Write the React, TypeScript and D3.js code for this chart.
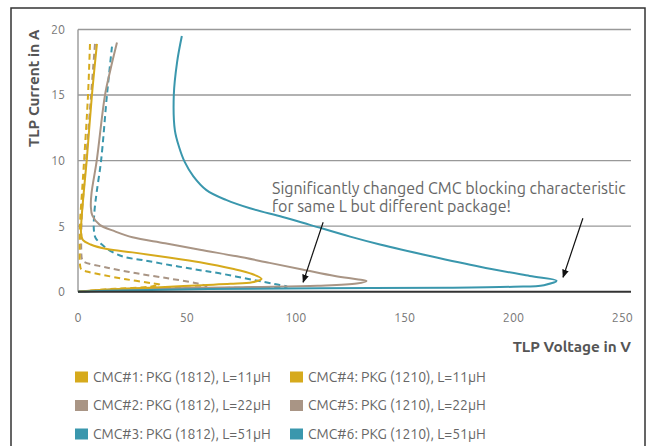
import React from "react";
import * as d3 from "d3";

// TLP curves: [voltage V, current A], traced from high current down to the snapback peak and back to origin
const cmc1: [number, number][] = [[8.7,18.9],[6.4,15],[4.0,10],[2.6,7.5],[1.6,5.5],[1.4,4.5],[2.2,3.95],[5.8,3.6],[13.3,3.25],[25,3.0],[40,2.65],[56,2.25],[71,1.75],[80,1.35],[84.3,0.98],[80,0.72],[70,0.6],[57,0.5],[40,0.36],[27,0.27],[12,0.15],[0,0]];
const cmc2: [number, number][] = [[17.9,19],[15,17],[12.4,15],[8.6,10],[6.2,7.5],[5.9,6.5],[6.6,5.8],[10,5.1],[17,4.6],[25,4.15],[40,3.7],[56,3.2],[73,2.7],[88,2.2],[103,1.7],[118,1.2],[128,0.95],[132.5,0.82],[128,0.62],[110,0.45],[80,0.36],[50,0.28],[20,0.15],[0,0]];
const cmc3: [number, number][] = [[47.7,19.5],[45.5,17.5],[44,15],[44.5,12.3],[46.5,11],[49,9.9],[53,8.8],[59,7.75],[68,7.0],[79,6.36],[94,5.7],[106.5,5.1],[125,4.2],[138.7,3.6],[161.6,2.72],[184.6,1.9],[207.5,1.2],[219.8,0.84],[214,0.5],[200,0.38],[170,0.3],[111,0.26],[60,0.2],[20,0.1],[0,0]];
const cmc4: [number, number][] = [[5.5,18.9],[4.6,15],[2.8,10],[1.8,7.5],[1.0,5.5],[0.8,4],[0.8,3],[0.9,2.1],[1.5,1.7],[5,1.5],[11.6,1.27],[22,0.95],[34,0.64],[37.6,0.52],[33,0.38],[20,0.25],[8,0.12],[0,0]];
const cmc5: [number, number][] = [[7.8,18.9],[6,15],[3.7,10],[2.5,7.5],[1.8,6],[1.5,4.5],[1.5,3.2],[1.8,2.5],[2.6,2.3],[13,1.85],[27,1.4],[42,1.0],[54.5,0.64],[59,0.4],[50,0.32],[35,0.28],[15,0.16],[0,0]];
const cmc6: [number, number][] = [[15.6,18.7],[13.3,15],[10.6,10],[8.5,7.5],[7.5,6],[7.3,4.7],[8.1,4.1],[11,3.6],[15,3.1],[20.8,2.67],[30,2.4],[42,2.04],[54,1.7],[65,1.4],[80.5,0.9],[90,0.6],[96,0.38],[85,0.33],[60,0.27],[30,0.18],[0,0]];

const seriesNames = [
  "CMC#1: PKG (1812), L=11µH",
  "CMC#2: PKG (1812), L=22µH",
  "CMC#3: PKG (1812), L=51µH",
  "CMC#4: PKG (1210), L=11µH",
  "CMC#5: PKG (1210), L=22µH",
  "CMC#6: PKG (1210), L=51µH",
];
const xTicks = [0, 50, 100, 150, 200, 250];
const yTicks = [0, 5, 10, 15, 20];
const annotationLines = [
  "Significantly changed CMC blocking characteristic",
  "for same L but different package!",
];
// arrows in data coords: [fromV, fromA, toV, toA]
const arrows: [number, number, number, number][] = [
  [112.6, 5.3, 103.4, 0.72],
  [231.9, 5.6, 222.8, 1.1],
];

const YELLOW = "#d6aa1c";
const TAUPE = "#a99585";
const TEAL = "#3a97ad";

export default function App() {
  const left = 78, right = 631, top = 29.5, bottom = 291.7;
  const x = d3.scaleLinear().domain([0, 254]).range([left, right]);
  const y = d3.scaleLinear().domain([0, 20]).range([bottom, top]);
  const line = d3
    .line<[number, number]>()
    .x((d) => x(d[0]))
    .y((d) => y(d[1]))
    .curve(d3.curveCatmullRom.alpha(0.5));

  const series = [
    { data: cmc5, color: TAUPE, dash: true },
    { data: cmc4, color: YELLOW, dash: true },
    { data: cmc6, color: TEAL, dash: true },
    { data: cmc2, color: TAUPE, dash: false },
    { data: cmc1, color: YELLOW, dash: false },
    { data: cmc3, color: TEAL, dash: false },
  ];
  const legendColors = [YELLOW, TAUPE, TEAL, YELLOW, TAUPE, TEAL];
  const font = "Ubuntu, 'Open Sans', 'Noto Sans', sans-serif";

  return (
    <svg width={650} height={446} style={{ position: "absolute", left: 0, top: 0, background: "#fff" }} fontFamily={font}>
      <defs>
        <marker id="ah" viewBox="0 0 10 10" refX="9" refY="5" markerWidth="7" markerHeight="7" orient="auto-start-reverse">
          <path d="M0,1 L10,5 L0,9 z" fill="#111" />
        </marker>
      </defs>
      <rect x={11} y={8} width={634} height={450} fill="none" stroke="#333" strokeWidth={1.5} />
      {/* grid */}
      {yTicks.filter((t) => t > 0).map((t) => (
        <line key={t} x1={left} x2={right} y1={y(t)} y2={y(t)} stroke="#999" strokeWidth={1.4} />
      ))}
      <line x1={left} x2={left} y1={top} y2={bottom} stroke="#999" strokeWidth={1.4} />
      {/* curves */}
      {series.map((s, i) => (
        <path key={i} d={line(s.data) || ""} fill="none" stroke={s.color} strokeWidth={2}
          strokeDasharray={s.dash ? "6,4" : undefined} strokeLinejoin="round" />
      ))}
      <line x1={left} x2={right} y1={bottom} y2={bottom} stroke="#333" strokeWidth={2} />
      {/* tick labels */}
      {yTicks.map((t) => (
        <text key={t} x={65} y={y(t)} dy="0.35em" textAnchor="end" fontSize={12.5} fill="#777">{t}</text>
      ))}
      {xTicks.map((t) => (
        <text key={t} x={x(t)} y={318} dy="0.35em" textAnchor="middle" fontSize={12.5} fill="#777">{t}</text>
      ))}
      {/* axis titles */}
      <text transform={`translate(39,${top}) rotate(-90)`} textAnchor="end" fontSize={15.3} fontWeight="bold" fill="#555">TLP Current in A</text>
      <text x={right} y={352} textAnchor="end" fontSize={15.3} fontWeight="bold" fill="#555">TLP Voltage in V</text>
      {/* annotation */}
      {annotationLines.map((l, i) => (
        <text key={i} x={272} y={194 + i * 18} fontSize={16} fill="#666">{l}</text>
      ))}
      {arrows.map((a, i) => (
        <line key={i} x1={x(a[0])} y1={y(a[1])} x2={x(a[2])} y2={y(a[3])} stroke="#111" strokeWidth={1.2} markerEnd="url(#ah)" />
      ))}
      {/* legend */}
      {seriesNames.map((n, i) => {
        const col = Math.floor(i / 3), row = i % 3;
        const lx = 75 + col * 215, ly = 377 + row * 28.5;
        return (
          <g key={n}>
            <rect x={lx} y={ly - 5.5} width={13} height={11} fill={legendColors[i]} />
            <text x={lx + 18} y={ly} dy="0.35em" fontSize={14} fill="#666">{n}</text>
          </g>
        );
      })}
    </svg>
  );
}
